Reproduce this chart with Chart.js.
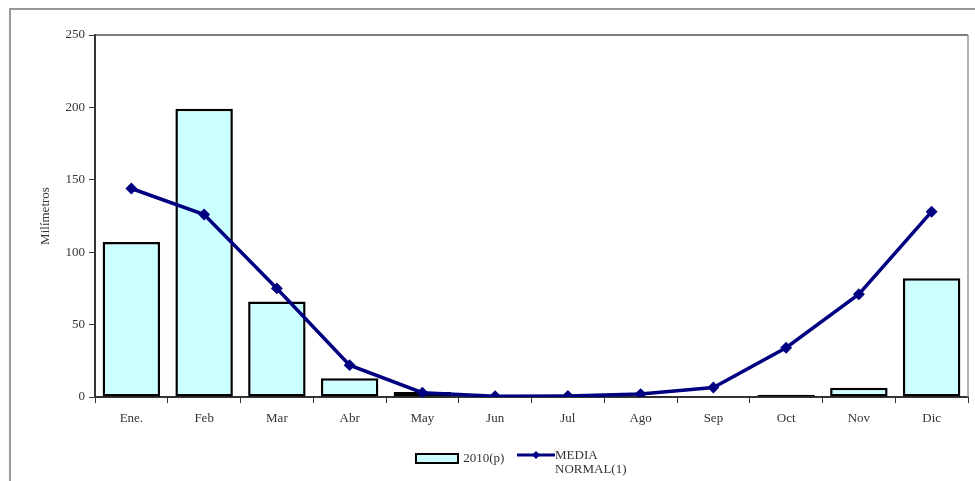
<!DOCTYPE html>
<html>
<head>
<meta charset="utf-8">
<script src="https://cdn.jsdelivr.net/npm/chart.js@4.4.1/dist/chart.umd.min.js"></script>
<style>
  html, body { margin: 0; padding: 0; background: #fff; }
  #wrap { position: relative; width: 975px; height: 481px; overflow: hidden; }
  #frame { position: absolute; left: 9px; top: 8px; width: 990px; height: 490px; border: 2px solid #9a9a9a; box-sizing: border-box; }
  canvas { position: absolute; left: 0; top: 0; }
  #legend { position: absolute; left: 415px; top: 446px; font-family: "Liberation Serif", "DejaVu Serif", serif; font-size: 13px; color: #333; }
  .item { position: absolute; white-space: nowrap; line-height: 14px; }
</style>
</head>
<body>
<div id="wrap">
  <div id="frame"></div>
  <canvas id="c" width="975" height="481"></canvas>
  <div id="legend">
    <div class="item" style="left:0; top:4px;">
      <span style="display:inline-block; width:40px; height:7px; background:#ccffff; border:2px solid #000; vertical-align:middle;"></span>
      <span style="vertical-align:middle; margin-left:1px;">2010(p)</span>
    </div>
    <div class="item" style="left:102px; top:0;">
      <svg width="38" height="10" style="position:absolute; left:0; top:4px;">
        <line x1="0" y1="5" x2="38" y2="5" stroke="#000080" stroke-width="3"/>
        <polygon points="19,1 23,5 19,9 15,5" fill="#000080"/>
      </svg>
      <div style="position:absolute; left:38px; top:2px;">MEDIA<br>NORMAL(1)</div>
    </div>
  </div>
</div>
<script>
const months = ["Ene.", "Feb", "Mar", "Abr", "May", "Jun", "Jul", "Ago", "Sep", "Oct", "Nov", "Dic"];
const rain2010 = [107, 199, 66, 13, 3.5, 0, 0, 0.5, 0, 1.5, 6.4, 82];
const mediaNormal = [144, 126, 75, 22, 3, 0.5, 0.7, 2, 6.5, 34, 71, 128];
const yTicks = [0, 50, 100, 150, 200, 250];

const fontSerif = { family: "'Liberation Serif', 'DejaVu Serif', serif", size: 13 };

const frameBox = {
  id: 'frameBox',
  afterDraw(chart) {
    const { ctx, chartArea: a } = chart;
    ctx.save();
    ctx.strokeStyle = '#555';
    ctx.lineWidth = 1.5;
    ctx.beginPath();
    ctx.moveTo(a.left, a.top);
    ctx.lineTo(a.right, a.top);
    ctx.stroke();
    ctx.strokeStyle = '#999';
    ctx.beginPath();
    ctx.moveTo(a.right, a.top);
    ctx.lineTo(a.right, a.bottom);
    ctx.stroke();
    ctx.restore();
  }
};

new Chart(document.getElementById('c'), {
  type: 'bar',
  data: {
    labels: months,
    datasets: [
      {
        type: 'line',
        label: 'MEDIA NORMAL(1)',
        data: mediaNormal,
        borderColor: '#000080',
        backgroundColor: '#000080',
        borderWidth: 3.5,
        pointStyle: 'rectRot',
        pointRadius: 3.5,
        pointHoverRadius: 3.5,
        tension: 0,
        order: 0
      },
      {
        type: 'bar',
        label: '2010(p)',
        data: rain2010,
        backgroundColor: '#ccffff',
        borderColor: '#000',
        borderWidth: 2.5,
        borderSkipped: false,
        barPercentage: 0.79,
        categoryPercentage: 1.0,
        order: 1
      }
    ]
  },
  options: {
    responsive: false,
    animation: false,
    devicePixelRatio: 1,
    layout: { padding: { top: 35, right: 4, left: 0, bottom: 0 } },
    plugins: { legend: { display: false }, tooltip: { enabled: false } },
    scales: {
      x: {
        offset: true,
        grid: { offset: true, drawOnChartArea: false, drawTicks: true, tickLength: 6, color: '#333', lineWidth: 1 },
        border: { display: true, color: '#333', width: 2 },
        ticks: { color: '#333', font: fontSerif, padding: 8, maxRotation: 0, autoSkip: false },
        afterFit(scale) { scale.height = 84; }
      },
      y: {
        min: 0,
        max: 250,
        afterBuildTicks(scale) { scale.ticks = yTicks.map(v => ({ value: v })); },
        grid: { drawOnChartArea: false, drawTicks: true, tickLength: 6, color: '#333' },
        border: { display: true, color: '#333', width: 2 },
        ticks: { color: '#333', font: fontSerif, padding: 4 },
        title: { display: true, text: 'Milímetros', color: '#333', font: fontSerif, padding: { top: 38, bottom: 0 } },
        afterFit(scale) { scale.width = 95; }
      }
    }
  },
  plugins: [frameBox]
});
</script>
</body>
</html>
